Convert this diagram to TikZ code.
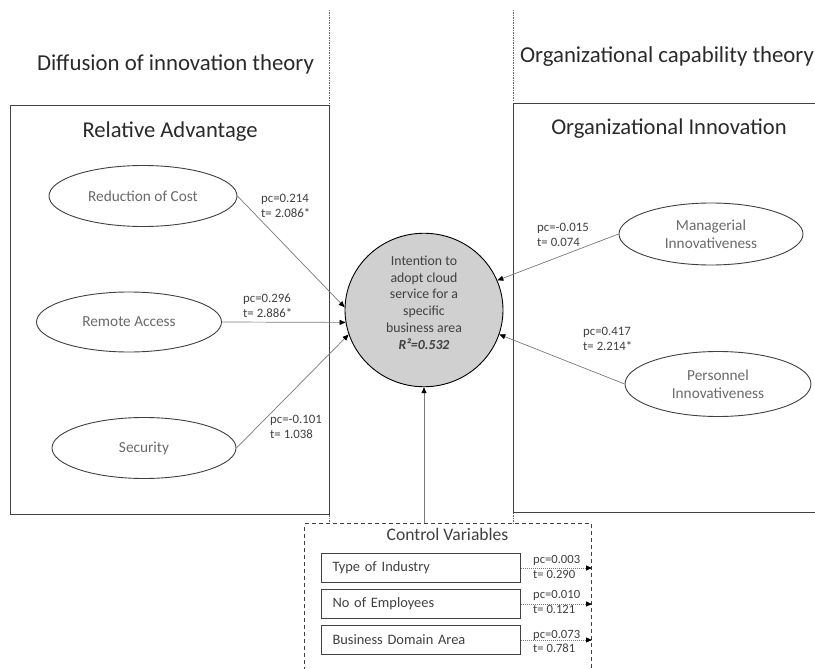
\documentclass[tikz,border=0pt]{standalone}
\usepackage{fontspec}
\setmainfont{Carlito}
\usetikzlibrary{shapes.geometric,arrows.meta}
\definecolor{edgec}{HTML}{404040}
\definecolor{linec}{HTML}{7A7A7A}
\definecolor{labc}{HTML}{404040}
\definecolor{ellc}{HTML}{6A6A6A}
\definecolor{headc}{HTML}{2A2A2A}
\definecolor{circfill}{HTML}{D0D0D0}
\tikzset{
  frame/.style={draw=edgec, line width=1.1pt},
  ell/.style={draw=edgec, line width=0.9pt, ellipse, inner sep=0pt, align=center,
    text=ellc, font=\fontsize{15.3}{18}\selectfont},
  conn/.style={draw=linec, line width=0.7pt, -{Triangle[black,length=6pt,width=5pt]}},
  dotconn/.style={draw=linec, line width=0.8pt, dash pattern=on 1pt off 1pt,
    -{Triangle[black,length=6pt,width=5pt]}},
  lab/.style={font=\fontsize{12.8}{14.8}\selectfont, text=labc, align=left,
    inner sep=0pt, anchor=west},
  heading/.style={font=\fontsize{22.8}{26}\selectfont, text=headc, inner sep=0pt},
  boxtitle/.style={font=\fontsize{22.6}{26}\selectfont, text=headc, inner sep=0pt},
  sepline/.style={draw=edgec!80, line width=0.6pt, dash pattern=on 1.5pt off 1pt},
  cvbox/.style={draw=edgec, line width=1pt, inner xsep=11pt, inner ysep=0pt,
    minimum width=199pt, minimum height=29pt, text width=177pt, align=left,
    text=labc, font=\fontsize{14.4}{16}\selectfont}
}
\begin{document}
\begin{tikzpicture}[x=1pt,y=-1pt]
\useasboundingbox (0,0) rectangle (815,669);
\clip (0,0) rectangle (815,669);

% theory dividers
\draw[sepline] (329,10) -- (329,523);
\draw[sepline] (513,10) -- (513,523);

% theory headings
\node[heading] (h1) at (175.5,64) {Diffusion of innovation theory};
\node[heading] (h2) at (667,57) {Organizational capability theory};

% construct frames
\node[frame, fill=white, minimum width=319pt, minimum height=409pt, inner sep=0pt,
  anchor=north west] (ra) at (10,105) {};
\node[frame, fill=white, minimum width=340pt, minimum height=409pt, inner sep=0pt,
  anchor=north west] (oi) at (513,103) {};
\node[boxtitle] (rat) at (170,132) {Relative Advantage};
\node[boxtitle] (oit) at (669,129) {Organizational Innovation};

% dependent construct
\node[draw=black, line width=0.9pt, fill=circfill, ellipse, minimum width=158pt,
  minimum height=151pt, inner sep=0pt, align=center, text=labc, text depth=15pt,
  font=\fontsize{13.8}{16.8}\selectfont] (ic) at (424,310)
  {Intention to\\adopt cloud\\service for a\\specific\\business area\\
   \textbf{\textit{R²=0.532}}};

% predictor constructs
\node[ell, minimum width=188pt, minimum height=61pt] (rc) at (143,196) {Reduction of Cost};
\node[ell, minimum width=185pt, minimum height=60pt] (rm) at (129,322) {Remote Access};
\node[ell, minimum width=184pt, minimum height=61pt] (se) at (144,448) {Security};
\node[ell, minimum width=184pt, minimum height=62pt] (mg) at (711,234) {Managerial\\Innovativeness};
\node[ell, minimum width=186pt, minimum height=65pt] (pe) at (718,384) {Personnel\\Innovativeness};

% paths into the dependent construct
\draw[conn] (rc.east) -- (ic.178.5);
\draw[conn] (rm.east) -- (ic.189.3);
\draw[conn] (se.east) -- (ic.198.7);
\draw[conn] (mg.west) -- (ic.22.7);
\draw[conn] (pe.west) -- (ic.342);

% path coefficients
\node[lab] (l1) at (261,206) {pc=0.214\\t= 2.086*};
\node[lab] (l2) at (243,305.5) {pc=0.296\\t= 2.886*};
\node[lab] (l3) at (270,426.5) {pc=-0.101\\t= 1.038};
\node[lab] (l4) at (537,234.5) {pc=-0.015\\t= 0.074};
\node[lab] (l5) at (583,338.5) {pc=0.417\\t= 2.214*};

% control variables
\node[draw=edgec, line width=1pt, dash pattern=on 4pt off 3pt, minimum width=287pt,
  minimum height=200pt, inner sep=0pt, anchor=north west] (cv) at (304,523) {};
\node[font=\fontsize{17.6}{20}\selectfont, text=labc, inner sep=0pt] (cvt) at (447.5,534) {Control Variables};
\draw[conn] (cv.north -| ic.south) -- (ic.south);

\node[cvbox, anchor=north west] (t1) at (321,553) {Type of Industry};
\node[cvbox, anchor=north west] (t2) at (321,589) {No of Employees};
\node[cvbox, anchor=north west] (t3) at (321,625) {Business Domain Area};

\draw[dotconn] (t1.east) -- (t1.east -| cv.east);
\draw[dotconn] (t2.east) -- (t2.east -| cv.east);
\draw[dotconn] (t3.east) -- (t3.east -| cv.east);

\node[lab, font=\fontsize{12.6}{15.5}\selectfont] (c1) at (533,567) {pc=0.003\\t= 0.290};
\node[lab, font=\fontsize{12.6}{15.5}\selectfont] (c2) at (533,602) {pc=0.010\\t= 0.121};
\node[lab, font=\fontsize{12.6}{13.5}\selectfont] (c3) at (533,641.5) {pc=0.073\\t= 0.781};
\end{tikzpicture}
\end{document}
